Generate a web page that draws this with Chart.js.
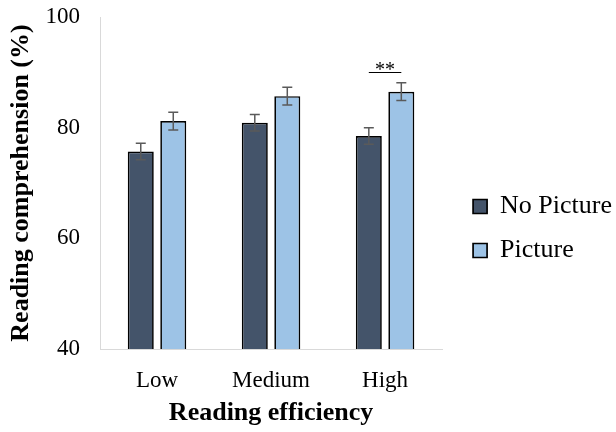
<!DOCTYPE html>
<html>
<head>
<meta charset="utf-8">
<script src="https://cdn.jsdelivr.net/npm/chart.js@4/dist/chart.umd.min.js"></script>
<style>
  html, body { margin: 0; padding: 0; background: #fff; }
  #wrap { width: 616px; height: 432px; }
</style>
</head>
<body>
<div id="wrap"><canvas id="readingChart" width="616" height="432"></canvas></div>
<script>
// data
const categories = ['Low', 'Medium', 'High'];
const noPicture = [75.7, 80.9, 78.5];
const picture = [81.2, 85.7, 86.5];
const noPictureErr = [1.5, 1.5, 1.5];
const pictureErr = [1.6, 1.6, 1.6];
const sigLevel = [null, null, 90];
const sigLabel = ['', '', '**'];
const yTicks = [40, 60, 80, 100];

const serif = "'Times New Roman', 'Liberation Serif', serif";

// error bars and the significance bracket, drawn on top of the bars
const errorBarPlugin = {
    id: 'errorBars',
    afterDatasetsDraw(chart) {
        const ctx = chart.ctx;
        const yScale = chart.scales.y;
        const errs = [noPictureErr, pictureErr];
        ctx.save();
        ctx.strokeStyle = '#5a5a5a';
        ctx.lineWidth = 1.5;
        chart.data.datasets.forEach((ds, i) => {
            const meta = chart.getDatasetMeta(i);
            meta.data.forEach((bar, j) => {
                const v = ds.data[j];
                const top = yScale.getPixelForValue(v + errs[i][j]);
                const bottom = yScale.getPixelForValue(v - errs[i][j]);
                const cap = 5;
                ctx.beginPath();
                ctx.moveTo(bar.x, top);
                ctx.lineTo(bar.x, bottom);
                ctx.moveTo(bar.x - cap, top);
                ctx.lineTo(bar.x + cap, top);
                ctx.moveTo(bar.x - cap, bottom);
                ctx.lineTo(bar.x + cap, bottom);
                ctx.stroke();
            });
        });

        // significance line
        const m0 = chart.getDatasetMeta(0);
        const m1 = chart.getDatasetMeta(1);
        sigLevel.forEach((lvl, j) => {
            if (lvl === null) return;
            const y = Math.round(yScale.getPixelForValue(lvl)) + 0.5;
            ctx.strokeStyle = '#000';
            ctx.lineWidth = 1;
            ctx.beginPath();
            ctx.moveTo(m0.data[j].x, y);
            ctx.lineTo(m1.data[j].x, y);
            ctx.stroke();
            ctx.fillStyle = '#000';
            ctx.font = '20px ' + serif;
            ctx.textAlign = 'center';
            ctx.textBaseline = 'alphabetic';
            ctx.fillText(sigLabel[j], (m0.data[j].x + m1.data[j].x) / 2, y + 3);
        });
        ctx.restore();
    }
};

const ctx = document.getElementById('readingChart').getContext('2d');
const readingChart = new Chart(ctx, {
    type: 'bar',
    data: {
        labels: categories,
        datasets: [{
            label: 'No Picture',
            data: noPicture,
            backgroundColor: '#44546a',
            borderColor: '#000',
            borderWidth: 1.7,
            borderSkipped: false,
            categoryPercentage: 0.57,
            barPercentage: 0.8
        }, {
            label: 'Picture',
            data: picture,
            backgroundColor: '#9dc3e6',
            borderColor: '#000',
            borderWidth: 1.7,
            borderSkipped: false,
            categoryPercentage: 0.57,
            barPercentage: 0.8
        }]
    },
    options: {
        responsive: false,
        animation: false,
        layout: { padding: { top: 17, right: -6, bottom: 0, left: 0 } },
        plugins: {
            tooltip: { enabled: false },
            legend: {
                position: 'right',
                maxWidth: 170,
                // blank title only pushes the items down a little
                title: { display: true, text: ' ', padding: 1, font: { size: 5 } },
                labels: {
                    boxWidth: 14,
                    boxHeight: 14,
                    padding: 18,
                    color: '#000',
                    font: { family: serif, size: 26 }
                }
            }
        },
        scales: {
            x: {
                grid: { display: false, drawTicks: false },
                border: { display: true, color: '#d9d9d9', width: 1 },
                ticks: { color: '#000', padding: 18, font: { family: serif, size: 23 } },
                title: {
                    display: true,
                    text: 'Reading efficiency',
                    color: '#000',
                    padding: { top: 0, bottom: 3 },
                    font: { family: serif, size: 26, weight: 'bold' }
                },
                afterFit: s => { s.height = 83; }
            },
            y: {
                min: 40,
                max: 100,
                afterBuildTicks: s => { s.ticks = yTicks.map(v => ({ value: v })); },
                grid: { display: false, drawTicks: false },
                border: { display: true, color: '#d9d9d9', width: 1 },
                ticks: { color: '#000', padding: 20, font: { family: serif, size: 23 } },
                title: {
                    display: true,
                    text: 'Reading comprehension (%)',
                    color: '#000',
                    padding: { top: 6, bottom: 0 },
                    font: { family: serif, size: 26, weight: 'bold' }
                },
                afterFit: s => {
                    s.width = 100;
                    s.paddingTop = 0;
                    s.paddingBottom = 0;
                }
            },
            // empty scale that only keeps a gap between the plot and the legend
            yR: {
                position: 'right',
                display: true,
                min: 0,
                max: 1,
                grid: { display: false, drawTicks: false },
                border: { display: false },
                ticks: { display: false },
                afterFit: s => { s.width = 13; }
            }
        }
    },
    plugins: [errorBarPlugin]
});
</script>
</body>
</html>
